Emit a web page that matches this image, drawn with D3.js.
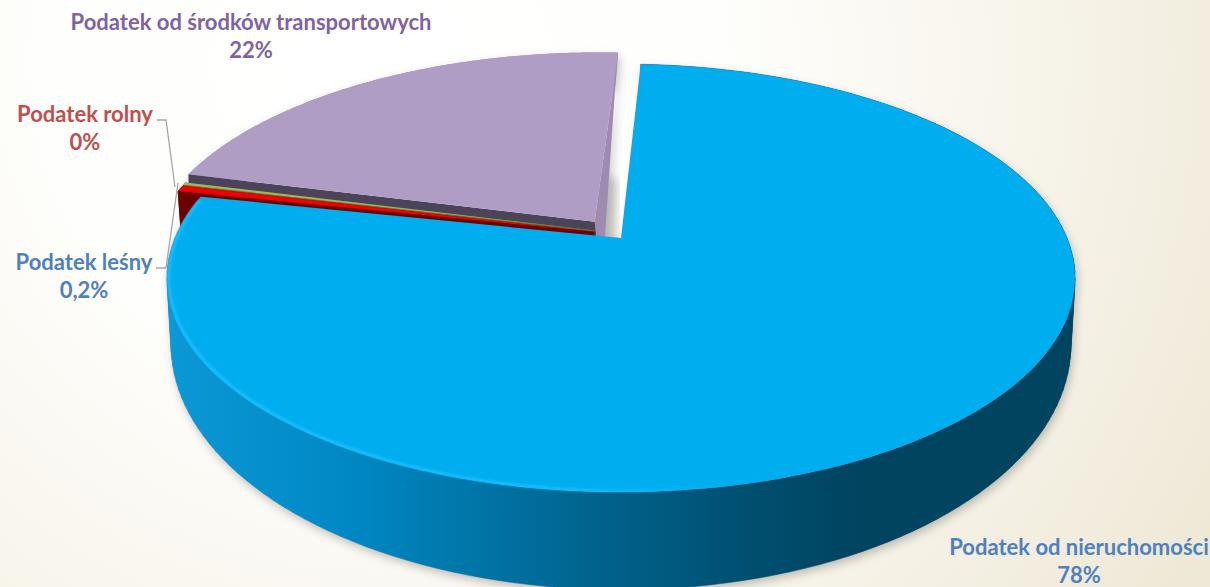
<!DOCTYPE html>
<html><head><meta charset="utf-8">
<script src="https://cdn.jsdelivr.net/npm/d3@7"></script>
<style>html,body{margin:0;padding:0;background:#fff;overflow:hidden}svg{display:block}text{font-family:Lato,"Open Sans",sans-serif;font-weight:700;font-size:22px;text-anchor:middle}</style>
</head><body><svg id="c" width="1210" height="587"></svg>
<script>
const categories = ["Podatek od nieruchomości","Podatek rolny","Podatek leśny","Podatek od środków transportowych"];
const shareValues = [78, 0.45, 0.2, 22];
const shareLabels = ["78%","0%","0,2%","22%"];
const topColors = ["#00aeef","#f00000","#a3b45a","#b09dc5"];
const wallColors = ["url(#blueWall)","#7a0000","#6b7d3a","#9d8bb1"];
const cutColors = ["#0a80b5","#6e0000","#5f6f35","#4b4459"];
const labelColors = ["#4f81bd","#c0504d","#4f81bd","#8064a2"];
const sliceOffsets = [[0,0],[-.06,-.03],[-.06,-.036],[-.06,-.08]];
const rimShift = [0,0,0,-3];
const apexShift = [0,0,0,7];
const labelAnchors = [[1079,555],[85,122],[84,270],[251,30]];
const leaders = [null,[[157,120],[166,120],[175,187]],[[156,268],[166,268],[178,183]],null];

const svg = d3.select("#c");
const defs = svg.append("defs");
const bg = defs.append("radialGradient").attr("id","bg").attr("gradientUnits","userSpaceOnUse")
  .attr("cx",380).attr("cy",60).attr("r",960);
[[0,"#ffffff"],[.35,"#fefefc"],[.65,"#f8f5ec"],[1,"#eee8d6"]].forEach(s=>bg.append("stop").attr("offset",s[0]).attr("stop-color",s[1]));
const bw = defs.append("linearGradient").attr("id","blueWall").attr("gradientUnits","userSpaceOnUse")
  .attr("x1",170).attr("x2",1075).attr("y1",0).attr("y2",0);
[[0,"#0a98d6"],[.2,"#0088c4"],[.36,"#0072a3"],[.48,"#00628c"],[.64,"#004f70"],[.76,"#004460"],[1,"#004460"]].forEach(s=>bw.append("stop").attr("offset",s[0]).attr("stop-color",s[1]));
const rg = defs.append("linearGradient").attr("id","rimFade").attr("gradientUnits","userSpaceOnUse")
  .attr("x1",560).attr("x2",730).attr("y1",0).attr("y2",0);
rg.append("stop").attr("offset",0).attr("stop-color","#1cc0ff");
rg.append("stop").attr("offset",1).attr("stop-color","#1cc0ff").attr("stop-opacity",0);
defs.append("filter").attr("id","soft").attr("x","-10%").attr("y","-10%").attr("width","120%").attr("height","120%")
  .append("feGaussianBlur").attr("stdDeviation",5);
defs.append("filter").attr("id","rim").attr("x","-5%").attr("y","-5%").attr("width","110%").attr("height","110%")
  .append("feGaussianBlur").attr("stdDeviation",1);

svg.append("rect").attr("width",1210).attr("height",587).attr("fill","url(#bg)");

const P = .187;
const topDisc = {cx:621,cy:238,a:446,b:206.5};
const botDisc = {cx:621,cy:299,a:442,b:236.4};
const rad = Math.PI/180;
const pie = d3.pie().sort(null).startAngle(3*rad).endAngle(363*rad);
const arcs = pie(shareValues);
const project = (d,off,t,r,sx=0)=>{
  const u = r*Math.sin(t)+off[0], v = -r*Math.cos(t)+off[1], w = 1-P*v;
  return [d.cx+sx+d.a*u/w, d.cy+d.b*v/w];
};
const line = d3.line();
const steps = (a,b,n=160)=>d3.range(n+1).map(i=>a+(b-a)*i/n);

function shape(i){
  const A = arcs[i], off = sliceOffsets[i];
  const ts = steps(A.startAngle,A.endAngle);
  const top = ts.map(t=>project(topDisc,off,t,1));
  const bot = ts.map(t=>project(botDisc,off,t,1,rimShift[i]));
  const tc = project(topDisc,off,0,0), bc = project(botDisc,off,0,0,apexShift[i]);
  let strip = "";
  for(let k=0;k<ts.length-1;k++){
    let q=[top[k],top[k+1],bot[k+1],bot[k]];
    const area=d3.polygonArea(q); if(area<0) q=q.reverse();
    strip += line(q)+"Z";
  }
  return {face:line([tc,...top])+"Z", strip, tc, bc, bot,
    cutA:line([tc,top[0],bot[0],bc])+"Z", cutB:line([tc,top[top.length-1],bot[bot.length-1],bc])+"Z", top};
}
const shapes = arcs.map((_,i)=>shape(i));

// ground shadow
const sh = svg.append("g").attr("filter","url(#soft)").attr("opacity",.45).attr("transform","translate(2,4)");
[0,3].forEach(i=>{
  sh.append("path").attr("d",shapes[i].strip).attr("fill","#77736a");
  sh.append("path").attr("d",shapes[i].cutB).attr("fill","#77736a");
});
// shadow of the purple wedge falling into the gap, lower part only
const pe = shapes[3].bot[shapes[3].bot.length-1], pc = shapes[3].bc;
const mid = d3.interpolateArray(pc,pe)(.55);
svg.append("path").attr("d",line([[mid[0]-6,mid[1]],[mid[0]+8,mid[1]+6],[pc[0]+14,pc[1]],[pc[0]-6,pc[1]]])+"Z")
  .attr("fill","#8a8780").attr("opacity",.42).attr("filter","url(#soft)");

// draw back to front
[3,2,1].forEach(i=>{
  const s = shapes[i], g = svg.append("g");
  g.append("path").attr("d",s.strip).attr("fill",wallColors[i]);
  g.append("path").attr("d",s.cutB).attr("fill",i===3?wallColors[3]:cutColors[i]);
  g.append("path").attr("d",s.cutA).attr("fill",cutColors[i]);
  g.append("path").attr("d",s.face).attr("fill",topColors[i]);
});
const s0 = shapes[0];
svg.append("path").attr("d",s0.strip).attr("fill",wallColors[0]).attr("stroke",wallColors[0]).attr("stroke-width",.5);
svg.append("path").attr("d",s0.face).attr("fill",topColors[0]);
// lit rim on the blue face, left and front only
const rimPts = steps(arcs[0].startAngle+165*rad,arcs[0].endAngle-1*rad).map(t=>project(topDisc,[0,0],t,.996));
svg.append("path").attr("d",line(rimPts)).attr("fill","none").attr("stroke","url(#rimFade)").attr("stroke-width",2.5).attr("filter","url(#rim)");

// leaders
leaders.forEach(l=>{ if(l) svg.append("path").attr("d",line(l)).attr("fill","none").attr("stroke","#a6a6a6").attr("stroke-width",1.3); });

// labels
categories.forEach((c,i)=>{
  const t = svg.append("text").attr("x",labelAnchors[i][0]).attr("y",labelAnchors[i][1]).attr("fill",labelColors[i]);
  t.append("tspan").attr("x",labelAnchors[i][0]).text(c);
  t.append("tspan").attr("x",labelAnchors[i][0]).attr("dy",28).text(shareLabels[i]);
});
</script></body></html>
